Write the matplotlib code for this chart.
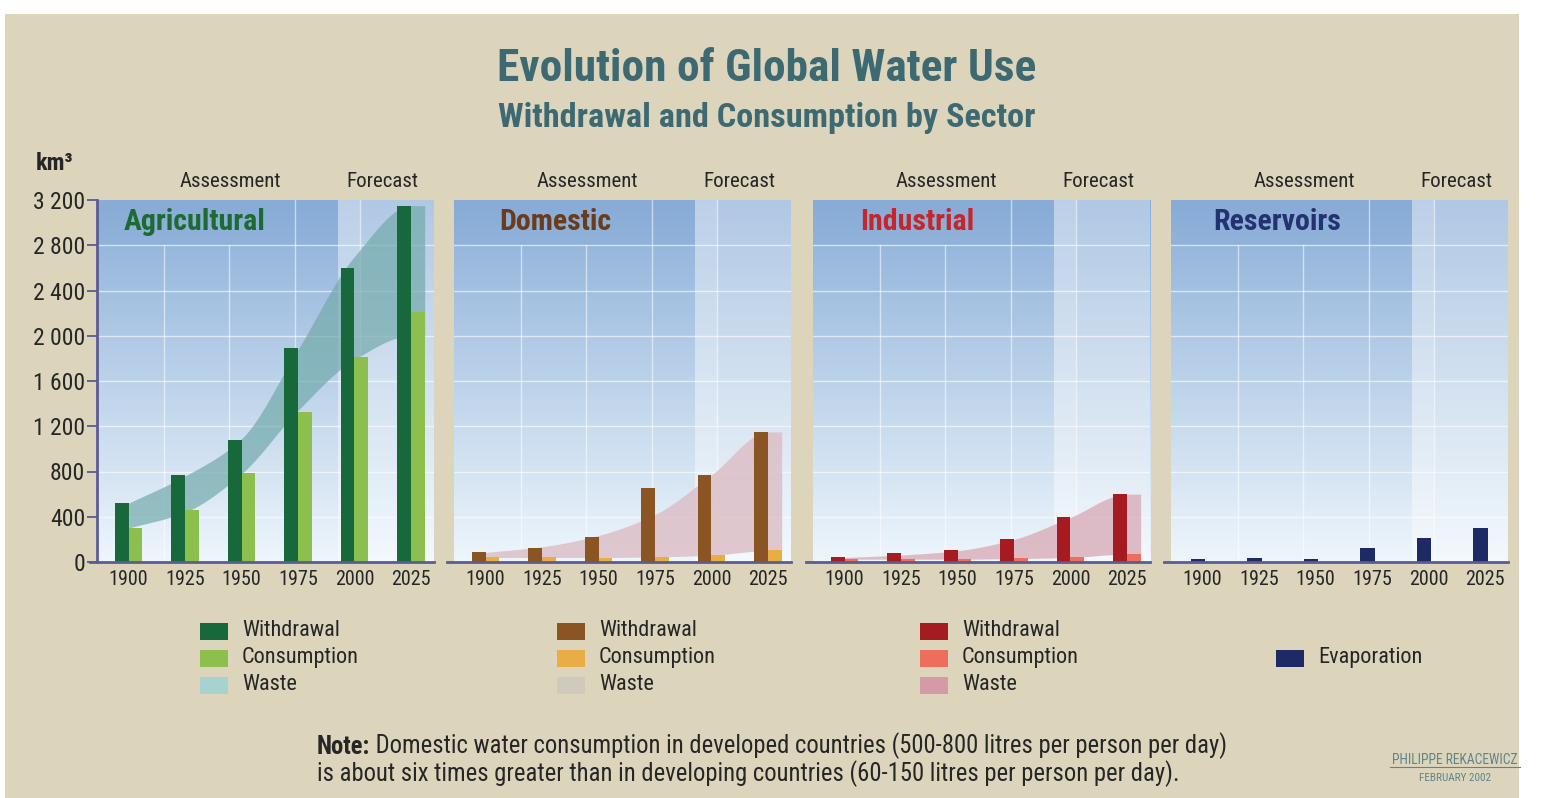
import numpy as np
import matplotlib
matplotlib.use("Agg")
import matplotlib.pyplot as plt
from matplotlib.patches import Rectangle
from matplotlib.lines import Line2D
from matplotlib.colors import to_rgb

# ---- data (km3) ----
years = ["1900", "1925", "1950", "1975", "2000", "2025"]

agr_withdrawal = [525, 770, 1080, 1890, 2600, 3150]
agr_consumption = [300, 460, 790, 1330, 1810, 2210]
agr_waste_top = [520, 760, 1090, 1880, 2700, 3150]
agr_waste_bottom = [300, 440, 780, 1340, 1790, 2000]

dom_withdrawal = [85, 125, 220, 655, 770, 1150]
dom_consumption = [45, 42, 38, 44, 65, 110]
dom_waste_top = [85, 135, 235, 420, 770, 1150]
dom_waste_bottom = [40, 40, 40, 45, 60, 100]

ind_withdrawal = [40, 80, 110, 200, 395, 600]
ind_consumption = [25, 25, 25, 32, 44, 75]
ind_waste_top = [40, 62, 100, 200, 395, 600]
ind_waste_bottom = [25, 25, 25, 30, 40, 70]

res_evaporation = [30, 35, 30, 120, 210, 300]

y_ticks = [0, 400, 800, 1200, 1600, 2000, 2400, 2800, 3200]
y_tick_labels = ["0", "400", "800", "1 200", "1 600", "2 000", "2 400", "2 800", "3 200"]

W, H = 1554, 798
plt.rcParams['font.family'] = ['Roboto Condensed', 'Liberation Sans', 'DejaVu Sans']
BEIGE = '#dcd5bc'
AXIS = '#5a5c94'
TXT = '#262626'


def pchip(x, y, xs):
    # monotone cubic through the points, for the smooth waste bands
    x = np.asarray(x, float)
    y = np.asarray(y, float)
    h = np.diff(x)
    d = np.diff(y) / h
    m = np.zeros_like(y)
    m[0] = d[0]
    for i in range(1, len(y) - 1):
        if d[i - 1] * d[i] > 0:
            w1 = 2 * h[i] + h[i - 1]
            w2 = h[i] + 2 * h[i - 1]
            m[i] = (w1 + w2) / (w1 / d[i - 1] + w2 / d[i])
    m[-1] = d[-1]
    idx = np.clip(np.searchsorted(x, xs) - 1, 0, len(h) - 1)
    t = (xs - x[idx]) / h[idx]
    h00 = 2 * t**3 - 3 * t**2 + 1
    h10 = t**3 - 2 * t**2 + t
    h01 = -2 * t**3 + 3 * t**2
    h11 = t**3 - t**2
    return h00 * y[idx] + h10 * h[idx] * m[idx] + h01 * y[idx + 1] + h11 * h[idx] * m[idx + 1]


def fpos(px, py):
    return px / W, 1 - py / H


fig = plt.figure(figsize=(W / 100, H / 100), dpi=100, facecolor='white')
fig.add_artist(Rectangle((5 / W, 0), 1514 / W, 784 / H, transform=fig.transFigure,
                         facecolor=BEIGE, edgecolor='none', zorder=-10))

xlim = (-0.56, 5.41)
bw = 0.245
x = np.arange(len(years))
forecast_frac = 0.714

panels = [
    dict(left=97, name='Agricultural', color='#1d6b33', name_x=0.08,
         bars=[(agr_withdrawal, '#17683a'), (agr_consumption, '#8dbf4e')],
         band=(agr_waste_top, agr_waste_bottom, '#72aaab', 0.7)),
    dict(left=454, name='Domestic', color='#6a3b1c', name_x=0.134,
         bars=[(dom_withdrawal, '#8a5523'), (dom_consumption, '#e9ad45')],
         band=(dom_waste_top, dom_waste_bottom, '#dcbcc4', 0.8)),
    dict(left=813, name='Industrial', color='#c4262c', name_x=0.14,
         bars=[(ind_withdrawal, '#a51b20'), (ind_consumption, '#ee6e5d')],
         band=(ind_waste_top, ind_waste_bottom, '#d8adb9', 0.8)),
    dict(left=1171, name='Reservoirs', color='#253271', name_x=0.125,
         bars=[(res_evaporation, '#1d2a63')], band=None),
]

t_col = np.linspace(0, 1, 256)[:, None]
sky_top = np.array(to_rgb('#8aaed8'))
sky_bot = np.array(to_rgb('#eef6fc'))
sky = (sky_top * (1 - t_col) + sky_bot * t_col)[:, None, :]

for k, p in enumerate(panels):
    ax = fig.add_axes([p['left'] / W, (H - 562) / H, 337 / W, 362 / H])
    ax.set_facecolor('none')
    ax.imshow(sky, extent=(0, 1, 0, 1), transform=ax.transAxes, aspect='auto', zorder=0)
    ax.add_patch(Rectangle((0, 0.875), forecast_frac, 0.125, transform=ax.transAxes,
                           facecolor='#7ea3d0', alpha=0.18, edgecolor='none', zorder=0.3))
    ax.add_patch(Rectangle((forecast_frac, 0), 1 - forecast_frac, 1, transform=ax.transAxes,
                           facecolor='white', alpha=0.33, edgecolor='none', zorder=0.4))
    ax.add_patch(Rectangle((forecast_frac, 0), 0.066, 1, transform=ax.transAxes,
                           facecolor='white', alpha=0.15, edgecolor='none', zorder=0.4))
    for yv in y_ticks[1:-1]:
        ax.axhline(yv, color='white', lw=1, alpha=0.6, zorder=1)
    for fx, top in [(0.2, 0.875), (0.393, 0.875), (0.587, 1), (0.78, 1)]:
        ax.plot([fx, fx], [0, top], transform=ax.transAxes, color='white', lw=1, alpha=0.55, zorder=1)

    if p['band'] is not None:
        top, bot, bcol, balpha = p['band']
        bx = np.append(x, 5 + bw).astype(float)
        xs = np.linspace(0, 5 + bw, 300)
        ys_top = pchip(bx, np.append(top, top[-1]), xs)
        ys_bot = pchip(bx, np.append(bot, bot[-1]), xs)
        ax.fill_between(xs, ys_bot, ys_top, color=bcol, alpha=balpha, lw=0, zorder=2)

    if len(p['bars']) == 2:
        (wv, wc), (cv, cc) = p['bars']
        ax.bar(x - bw / 2, wv, bw, color=wc, zorder=3)
        ax.bar(x + bw / 2, cv, bw, color=cc, zorder=3)
    else:
        (ev, ec), = p['bars']
        ax.bar(x - 0.08, ev, 0.26, color=ec, zorder=3)

    ax.set_xlim(*xlim)
    ax.set_ylim(0, 3200)
    for s in ax.spines.values():
        s.set_visible(False)
    ax.plot([-0.022, 1], [0, 0], transform=ax.transAxes, color=AXIS, lw=2, clip_on=False, zorder=5)
    ax.set_xticks(x, years)
    ax.tick_params(axis='x', length=0, pad=6, labelsize=14.5, labelcolor=TXT)
    if k == 0:
        ax.spines['left'].set_visible(True)
        ax.spines['left'].set_color(AXIS)
        ax.spines['left'].set_linewidth(2)
        ax.spines['left'].set_zorder(5)
        ax.set_yticks(y_ticks, y_tick_labels)
        ax.tick_params(axis='y', length=7, width=1.3, color=AXIS, pad=1.5,
                       labelsize=17, labelcolor=TXT)
    else:
        ax.set_yticks([])

    ax.text(p['name_x'], 0.939, p['name'], transform=ax.transAxes, fontsize=21.5,
            fontweight='bold', color=p['color'], va='center', ha='left', zorder=6)
    ax.text(0.397, 1.05, 'Assessment', transform=ax.transAxes, fontsize=15,
            color=TXT, ha='center', va='center')
    ax.text(0.847, 1.05, 'Forecast', transform=ax.transAxes, fontsize=15,
            color=TXT, ha='center', va='center')

# titles
fig.text(*fpos(767, 69), 'Evolution of Global Water Use', fontsize=32.7,
         fontweight='bold', color='#3d6a72', ha='center', va='center')
fig.text(*fpos(767, 118), 'Withdrawal and Consumption by Sector', fontsize=24.7,
         fontweight='bold', color='#3d6a72', ha='center', va='center')
fig.text(*fpos(36, 164), 'km³', fontsize=17.5, fontweight='bold', color=TXT, va='center')

# legends
legend_cols = [
    (200, [('#17683a', 'Withdrawal'), ('#8dbf4e', 'Consumption'), ('#a7d3cf', 'Waste')], 631),
    (557, [('#8a5523', 'Withdrawal'), ('#e9ad45', 'Consumption'), ('#d0cabd', 'Waste')], 631),
    (920, [('#a51b20', 'Withdrawal'), ('#ee6e5d', 'Consumption'), ('#d49aa5', 'Waste')], 631),
    (1276, [('#1d2a63', 'Evaporation')], 658),
]
for lx, items, ly in legend_cols:
    for i, (c, lab) in enumerate(items):
        yy = ly + 27 * i
        fig.add_artist(Rectangle(fpos(lx, yy + 8.5), 28 / W, 17 / H, transform=fig.transFigure,
                                 facecolor=c, edgecolor='none'))
        fig.text(*fpos(lx + 42, yy), lab, fontsize=16, color=TXT, va='center', ha='left')

# note
note_ax = fig.add_axes([0, 0, 1, 1])
note_ax.set_axis_off()
n1 = note_ax.text(317 / W, 1 - 747 / H, 'Note:', fontsize=17.7, fontweight='bold', color=TXT,
                  va='center', ha='left', transform=note_ax.transAxes)
note_ax.annotate(' Domestic water consumption in developed countries (500-800 litres per person per day)',
                 xy=(1, 0), xycoords=n1, va='bottom', ha='left', fontsize=17.7, color=TXT,
                 annotation_clip=False)
note_ax.text(317 / W, 1 - 774 / H,
             'is about six times greater than in developing countries (60-150 litres per person per day).',
             fontsize=17.7, color=TXT, va='center', ha='left', transform=note_ax.transAxes)

# signature
fig.text(*fpos(1455, 760), 'PHILIPPE REKACEWICZ', fontsize=9.8,
         color='#5f858b', ha='center', va='center')
fig.add_artist(Line2D([1390 / W, 1520 / W], [1 - 767 / H, 1 - 767 / H], transform=fig.transFigure,
                      color='#5f858b', lw=0.8))
fig.text(*fpos(1455, 778), 'FEBRUARY 2002', fontsize=8,
         color='#5f858b', ha='center', va='center')

fig.savefig('out.png', dpi=100, facecolor=fig.get_facecolor())
